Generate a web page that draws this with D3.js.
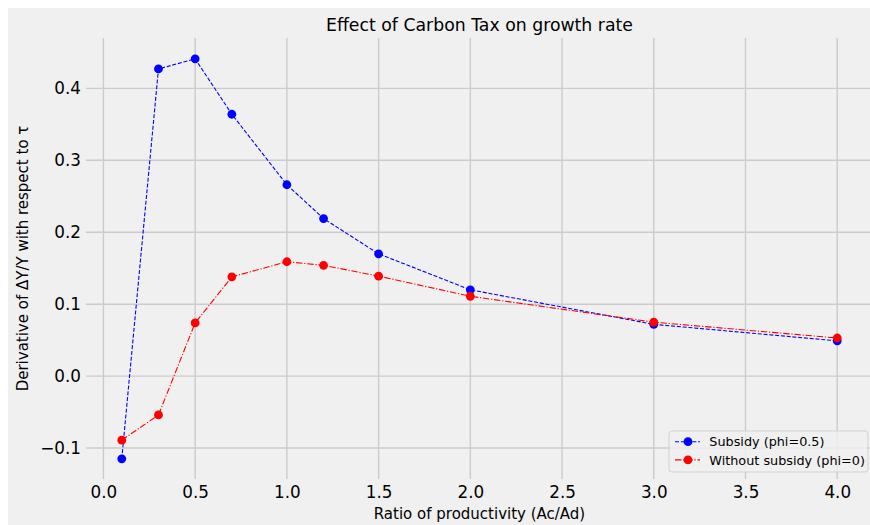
<!DOCTYPE html>
<html>
<head>
<meta charset="utf-8">
<script src="https://cdn.jsdelivr.net/npm/d3@7/dist/d3.min.js"></script>
<style>
  html, body { margin: 0; padding: 0; background: #ffffff; }
  svg { display: block; }
  text { font-family: "DejaVu Sans", sans-serif; fill: #000; }
</style>
</head>
<body>
<script>
// ---- data ----
const ratios = [0.1, 0.3, 0.5, 0.7, 1.0, 1.2, 1.5, 2.0, 3.0, 4.0];
const subsidy = [-0.115, 0.427, 0.441, 0.364, 0.266, 0.219, 0.170, 0.120, 0.072, 0.049];
const noSubsidy = [-0.089, -0.054, 0.074, 0.138, 0.159, 0.154, 0.139, 0.111, 0.075, 0.053];
const xTicks = [0.0, 0.5, 1.0, 1.5, 2.0, 2.5, 3.0, 3.5, 4.0];
const yTicks = [-0.1, 0.0, 0.1, 0.2, 0.3, 0.4];
const seriesNames = ["Subsidy (phi=0.5)", "Without subsidy (phi=0)"];
const title = "Effect of Carbon Tax on growth rate";
const xLabel = "Ratio of productivity (Ac/Ad)";
const yLabel = "Derivative of \u0394Y/Y with respect to \u03c4";

const W = 870, H = 525;
const svg = d3.select("body").append("svg").attr("width", W).attr("height", H);

// figure background
svg.append("rect").attr("x", 8).attr("y", 8).attr("width", W - 8).attr("height", H - 8).attr("fill", "#f0f0f0");

const plot = { left: 86, right: 873, top: 38, bottom: 479 };
const x = d3.scaleLinear().domain([-0.095, 4.195]).range([plot.left, plot.right]);
const y = d3.scaleLinear().domain([-0.143, 0.470]).range([plot.bottom, plot.top]);

// grid
const grid = svg.append("g");
grid.selectAll("line.v").data(xTicks).join("line")
  .attr("x1", d => x(d)).attr("x2", d => x(d))
  .attr("y1", plot.top).attr("y2", plot.bottom)
  .attr("stroke", "#cbcbcb").attr("stroke-width", 1.4);
grid.selectAll("line.h").data(yTicks).join("line")
  .attr("x1", plot.left).attr("x2", plot.right)
  .attr("y1", d => y(d)).attr("y2", d => y(d))
  .attr("stroke", "#cbcbcb").attr("stroke-width", 1.4);

// axes (tick labels only)
const fmt = d3.format(".1f");
const xAxis = d3.axisBottom(x).tickValues(xTicks).tickSize(0).tickPadding(7).tickFormat(fmt);
const yAxis = d3.axisLeft(y).tickValues(yTicks).tickSize(0).tickPadding(5)
  .tickFormat(d => fmt(d).replace("-", "\u2212"));
const gx = svg.append("g").attr("transform", `translate(0,${plot.bottom})`).call(xAxis);
const gy = svg.append("g").attr("transform", `translate(${plot.left},0)`).call(yAxis);
[gx, gy].forEach(g => {
  g.select(".domain").remove();
  g.selectAll("text").attr("font-family", "DejaVu Sans").attr("font-size", 16.8).attr("fill", "#000");
});

// lines
const pts1 = ratios.map((r, i) => [r, subsidy[i]]);
const pts2 = ratios.map((r, i) => [r, noSubsidy[i]]);
const line = d3.line().x(d => x(d[0])).y(d => y(d[1]));

svg.append("path").datum(pts1).attr("d", line).attr("fill", "none")
  .attr("stroke", "#0000ff").attr("stroke-width", 1.1).attr("stroke-dasharray", "4,1.8");
svg.append("path").datum(pts2).attr("d", line).attr("fill", "none")
  .attr("stroke", "#ff0000").attr("stroke-width", 1.1).attr("stroke-dasharray", "6.4,1.8,1.2,1.8");

svg.append("g").selectAll("circle").data(pts1).join("circle")
  .attr("cx", d => x(d[0])).attr("cy", d => y(d[1])).attr("r", 4.4).attr("fill", "#0000ff");
svg.append("g").selectAll("circle").data(pts2).join("circle")
  .attr("cx", d => x(d[0])).attr("cy", d => y(d[1])).attr("r", 4.4).attr("fill", "#ff0000");

// title & labels
svg.append("text").attr("x", (plot.left + plot.right) / 2).attr("y", 31)
  .attr("text-anchor", "middle").attr("font-size", 17.3).text(title);
svg.append("text").attr("x", (plot.left + plot.right) / 2).attr("y", 519)
  .attr("text-anchor", "middle").attr("font-size", 15).text(xLabel);
svg.append("text").attr("transform", `translate(28,${(plot.top + plot.bottom) / 2}) rotate(-90)`)
  .attr("text-anchor", "middle").attr("font-size", 15).text(yLabel);

// legend
const lg = svg.append("g").attr("transform", "translate(669,431)");
lg.append("rect").attr("width", 199).attr("height", 41).attr("rx", 3)
  .attr("fill", "#f0f0f0").attr("fill-opacity", 0.8).attr("stroke", "#d3d3d3").attr("stroke-width", 1);
const items = [
  { name: seriesNames[0], color: "#0000ff", dash: "4,1.8" },
  { name: seriesNames[1], color: "#ff0000", dash: "6.4,1.8,1.2,1.8" }
];
items.forEach((it, i) => {
  const cy = 10.7 + i * 18.2;
  lg.append("line").attr("x1", 6).attr("x2", 31).attr("y1", cy).attr("y2", cy)
    .attr("stroke", it.color).attr("stroke-width", 1.1).attr("stroke-dasharray", it.dash);
  lg.append("circle").attr("cx", 19).attr("cy", cy).attr("r", 4.4).attr("fill", it.color);
  lg.append("text").attr("x", 40.3).attr("y", cy + 4.6).attr("font-size", 12.8).text(it.name);
});
</script>
</body>
</html>
